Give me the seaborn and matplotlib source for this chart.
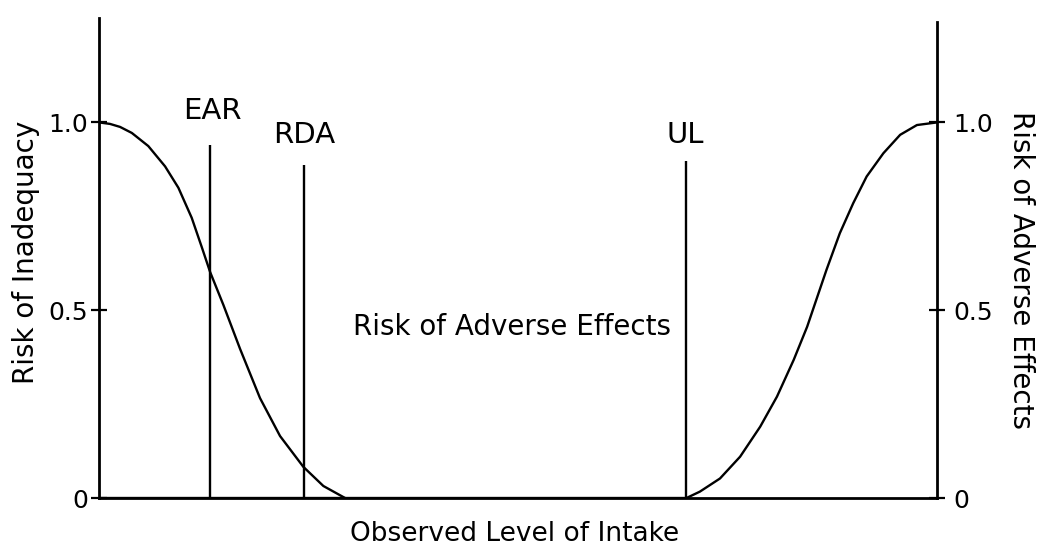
import matplotlib
matplotlib.use('Agg')
import matplotlib.pyplot as plt
import seaborn as sns

# curve points (x on a 0-100 intake scale)
inadequacy_x = [0, 1.31, 2.51, 3.91, 5.88, 7.88, 9.47, 11.06, 12.26, 13.25, 14.84, 16.83, 19.21, 21.6, 24.38, 26.77, 29.36]
inadequacy_y = [1.0, 0.996, 0.988, 0.972, 0.937, 0.883, 0.826, 0.746, 0.668, 0.602, 0.514, 0.397, 0.266, 0.165, 0.083, 0.032, 0.0]
adverse_x = [0, 70.1, 71.7, 74.1, 76.5, 78.9, 80.9, 82.9, 84.5, 86.8, 88.4, 90.0, 91.6, 93.6, 95.6, 97.6, 100]
adverse_y = [0, 0.0, 0.017, 0.052, 0.110, 0.190, 0.270, 0.368, 0.456, 0.607, 0.705, 0.785, 0.856, 0.918, 0.967, 0.993, 1.0]

ref_names = ['EAR', 'RDA', 'UL']
ref_x = [13.2, 24.4, 70.1]
ref_top = [0.94, 0.887, 0.896]
label_x = [13.5, 24.5, 70.0]
label_y = [1.009, 0.945, 0.945]

tick_values = [0, 0.5, 1.0]
tick_labels = ['0', '0.5', '1.0']
y_top = 1.278

sns.set_style('white')
plt.rcParams['font.family'] = ['DejaVu Sans']
plt.rcParams['text.color'] = 'black'
plt.rcParams['axes.labelcolor'] = 'black'

fig = plt.figure(figsize=(10.37, 5.52), dpi=100)
ax = fig.add_axes([0.0955, 0.0978, 0.8081, 0.8696])

sns.lineplot(x=inadequacy_x, y=inadequacy_y, ax=ax, color='black', lw=1.7, sort=False, estimator=None)
sns.lineplot(x=adverse_x, y=adverse_y, ax=ax, color='black', lw=1.7, sort=False, estimator=None)
ax.vlines(ref_x, 0, ref_top, color='black', lw=1.7)

for name, lx, ly in zip(ref_names, label_x, label_y):
    ax.text(lx, ly, name, ha='center', va='baseline', fontsize=21)

ax.text(49.3, 0.434, 'Risk of Adverse Effects', ha='center', va='baseline', fontsize=20)

ax.set_xlim(0, 100)
ax.set_ylim(0, y_top)
ax.set_xticks([])
ax.set_yticks(tick_values, tick_labels)
ax.tick_params(axis='y', direction='inout', length=12, width=1.6, labelsize=18, pad=2, colors='black')
for side in ['top', 'right']:
    ax.spines[side].set_visible(False)
for side in ['left', 'bottom']:
    ax.spines[side].set_color('black')
    ax.spines[side].set_linewidth(2)

ax2 = ax.twinx()
ax2.set_ylim(0, y_top)
ax2.set_yticks(tick_values, tick_labels)
ax2.tick_params(axis='y', direction='inout', length=12, width=1.6, labelsize=18, pad=6, colors='black')
for side in ['top', 'left', 'bottom']:
    ax2.spines[side].set_visible(False)
ax2.spines['right'].set_color('black')
ax2.spines['right'].set_linewidth(2)
ax2.spines['right'].set_bounds(0, 1.268)

fig.text(26 / 1037, 1 - 252 / 552, 'Risk of Inadequacy', rotation=90, ha='center', va='center', fontsize=20)
fig.text(1021 / 1037, 1 - 270 / 552, 'Risk of Adverse Effects', rotation=270, ha='center', va='center', fontsize=20)
fig.text(515 / 1037, 1 - 534 / 552, 'Observed Level of Intake', ha='center', va='center', fontsize=19)

fig.savefig('out.png', dpi=100)
